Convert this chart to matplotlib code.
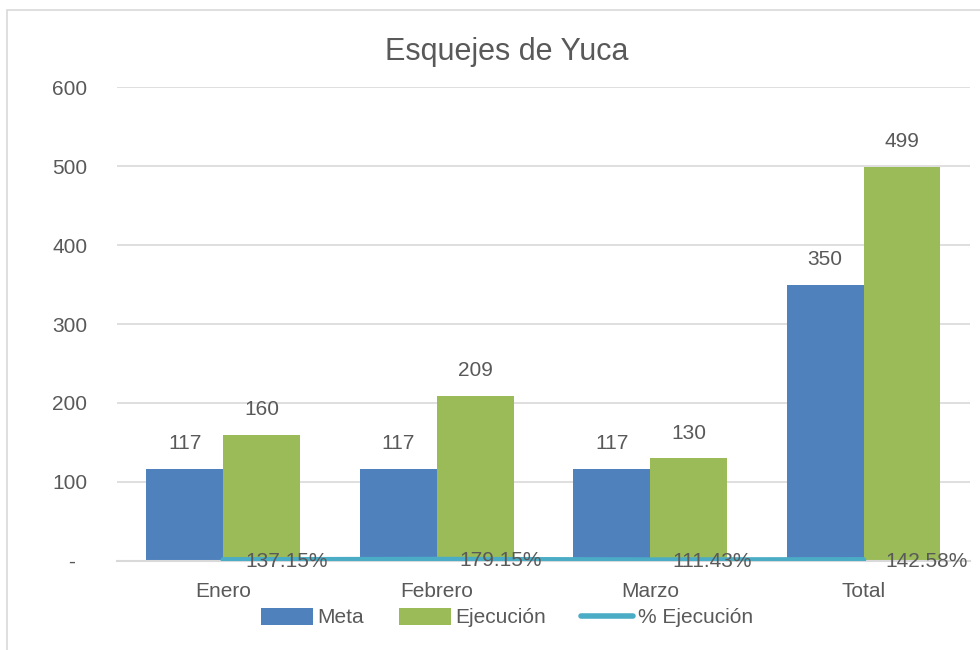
import numpy as np
import matplotlib
matplotlib.use("Agg")
import matplotlib.pyplot as plt
from matplotlib.patches import Rectangle

# datos
categorias = ["Enero", "Febrero", "Marzo", "Total"]
meta = [117, 117, 117, 350]
ejecucion = [160, 209, 130, 499]
pct_ejecucion = [1.3715, 1.7915, 1.1143, 1.4258]
pct_etiquetas = ["137.15%", "179.15%", "111.43%", "142.58%"]
y_ticks = [0, 100, 200, 300, 400, 500, 600]
y_etiquetas = ["-  ", "100", "200", "300", "400", "500", "600"]

azul = "#4F81BD"
verde = "#9BBB59"
turquesa = "#4BACC6"
gris_texto = "#595959"
gris_linea = "#D9D9D9"

plt.rcParams["font.family"] = ["Liberation Sans", "DejaVu Sans"]

fig = plt.figure(figsize=(9.8, 6.5), dpi=100)
ax = fig.add_axes([0.119, 0.137, 0.871, 0.729])

# marco del grafico
fig.patches.append(Rectangle((0.007, -0.5), 1.5, 1.485, transform=fig.transFigure,
                             fill=False, edgecolor=gris_linea, linewidth=1.2))

x = np.arange(len(categorias))
ancho = 0.36
b1 = ax.bar(x - ancho / 2, meta, ancho, color=azul, label="Meta", zorder=2)
b2 = ax.bar(x + ancho / 2, ejecucion, ancho, color=verde, label="Ejecución", zorder=2)
l1, = ax.plot(x, pct_ejecucion, color=turquesa, linewidth=4, label="% Ejecución",
              solid_capstyle="round", zorder=3)

# etiquetas de datos
for rects, vals in [(b1, meta), (b2, ejecucion)]:
    for r, v in zip(rects, vals):
        ax.annotate(str(v), (r.get_x() + r.get_width() / 2, v), xytext=(0, 18),
                    textcoords="offset points", ha="center", va="center",
                    fontsize=15, color=gris_texto)
for xi, yi, t in zip(x, pct_ejecucion, pct_etiquetas):
    ax.annotate(t, (xi, yi), xytext=(16, -1), textcoords="offset points",
                ha="left", va="center", fontsize=15, color=gris_texto, zorder=4)

ax.set_xlim(-0.5, 3.5)
ax.set_ylim(0, 600)
ax.set_yticks(y_ticks)
ax.set_yticklabels(y_etiquetas)
ax.set_xticks(x)
ax.set_xticklabels(categorias)
ax.tick_params(axis="both", length=0, labelsize=15, labelcolor=gris_texto)
ax.tick_params(axis="y", pad=21)
ax.tick_params(axis="x", pad=15)
ax.yaxis.grid(True, color=gris_linea, linewidth=1.2, zorder=0)
ax.set_axisbelow(True)
for s in ["top", "right", "left"]:
    ax.spines[s].set_visible(False)
ax.spines["bottom"].set_color(gris_linea)
ax.spines["bottom"].set_linewidth(1.5)

fig.text(0.517, 0.92, "Esquejes de Yuca", ha="center", va="center",
         fontsize=22, color=gris_texto)

fig.legend(handles=[b1, b2, l1], loc="center", bbox_to_anchor=(0.517, 0.05), ncol=3,
           frameon=False, fontsize=15, labelcolor=gris_texto, handlelength=2.5,
           handleheight=0.9, handletextpad=0.2, columnspacing=1.7)

fig.savefig("out.png", dpi=100)
